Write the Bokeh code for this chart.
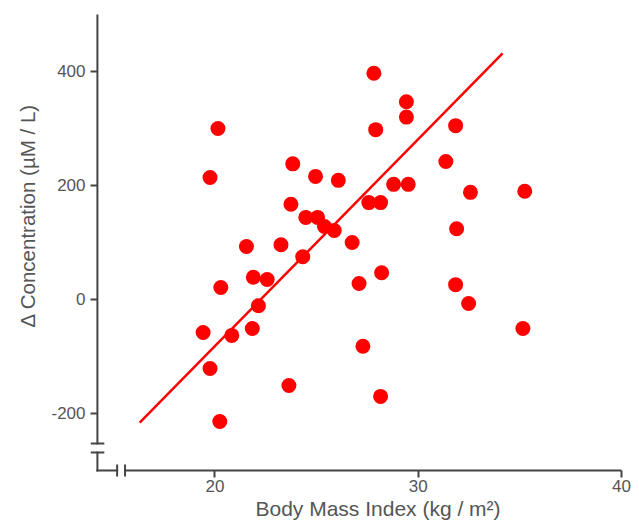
from bokeh.plotting import figure
from bokeh.models import Range1d, FixedTicker, Title
from bokeh.embed import file_html
from bokeh.resources import INLINE

# ---- data ----
bmi = [20.15, 19.76, 23.83, 24.95, 26.07, 23.74, 24.47, 25.05, 25.39, 25.87,
       27.57, 26.75, 21.55, 23.25, 24.32, 21.89, 22.57, 20.29, 27.09, 22.14,
       28.20, 19.42, 20.83, 21.84, 19.76, 23.64, 20.24, 27.28, 28.15, 27.82,
       29.42, 29.42, 27.91, 31.84, 31.36, 28.79, 29.51, 28.15, 32.57, 35.24,
       31.84, 32.48, 35.15, 31.89]
delta = [300, 214, 238, 216, 209, 167, 144, 144, 128, 121,
         170, 100, 93, 96, 75, 39, 35, 21, 28, -11,
         47, -58, -63, -51, -121, -151, -214, -82, -170, 397,
         347, 320, 298, 305, 242, 202, 202, 170, 188, 190,
         26, -7, -51, 124]

# regression line end points
fit_bmi = [16.30, 34.15]
fit_delta = [-216, 432]

x_ticks = [20, 30, 40]
y_ticks = [-200, 0, 200, 400]
x_title = "Body Mass Index (kg / m\u00b2)"
y_title = "\u0394 Concentration (\u00b5M / L)"

# ---- axis geometry (broken axes) ----
X0, Y0 = 14.22, -300          # axis corner
X_END, Y_END = 40, 500
Y_BRK = (-252.6, -268.4)      # y-axis break
X_BRK = (15.19, 15.58)        # x-axis break
X_MARK, Y_MARK = 0.29, 8.8    # half length of break marks

TXT = "#555555"
AX = "#444444"
FONT = "Liberation Sans"

p = figure(frame_width=531, frame_height=463,
           min_border_left=90, min_border_right=10,
           min_border_top=14, min_border_bottom=46,
           x_range=Range1d(13.88, X_END), y_range=Range1d(-312.3, Y_END),
           output_backend="svg", toolbar_location=None)
p.outline_line_color = None
p.grid.visible = False

# axes: only ticks and labels; the lines are drawn below
for ax in (p.xaxis[0], p.yaxis[0]):
    ax.axis_line_color = None
    ax.major_tick_out = 0
    ax.minor_tick_line_color = None
    ax.major_tick_line_color = AX
    ax.major_tick_line_width = 2
    ax.major_label_text_color = TXT
    ax.major_label_text_font = FONT
    ax.major_label_text_font_size = "17px"

p.xaxis[0].ticker = FixedTicker(ticks=x_ticks)
p.yaxis[0].ticker = FixedTicker(ticks=y_ticks)
p.xaxis[0].major_label_overrides = {t: str(t) for t in x_ticks}
p.yaxis[0].major_label_overrides = {t: str(t) for t in y_ticks}
p.xaxis[0].major_tick_in = 7
p.yaxis[0].major_tick_in = 7
p.xaxis[0].major_label_standoff = 2
p.yaxis[0].major_label_standoff = 5

# axis titles (side-panel titles so they can be offset like the reference)
p.add_layout(Title(text=x_title, align="left", offset=165, standoff=0,
                   text_color=TXT, text_font=FONT, text_font_size="21px",
                   text_font_style="normal"), "below")
p.add_layout(Title(text=y_title, align="left", offset=150, standoff=19,
                   text_color=TXT, text_font=FONT, text_font_size="20.5px",
                   text_font_style="normal"), "left")

# axis lines with breaks
x0s = [X0, X0, X0 - X_MARK, X0 - X_MARK, X0, X_BRK[1], X_BRK[0], X_BRK[1]]
y0s = [Y_BRK[0], Y0, Y_BRK[0], Y_BRK[1], Y0, Y0, Y0 - Y_MARK, Y0 - Y_MARK]
x1s = [X0, X0, X0 + X_MARK, X0 + X_MARK, X_BRK[0], X_END, X_BRK[0], X_BRK[1]]
y1s = [Y_END, Y_BRK[1], Y_BRK[0], Y_BRK[1], Y0, Y0, Y0 + Y_MARK, Y0 + Y_MARK]
p.segment(x0s, y0s, x1s, y1s, line_color=AX, line_width=2, line_cap="square")

p.scatter(bmi, delta, size=15, fill_color="#ff0000", line_color=None)
p.line(fit_bmi, fit_delta, line_color="#ff0000", line_width=2.5)

open("out.html", "w").write(file_html(p, INLINE))
